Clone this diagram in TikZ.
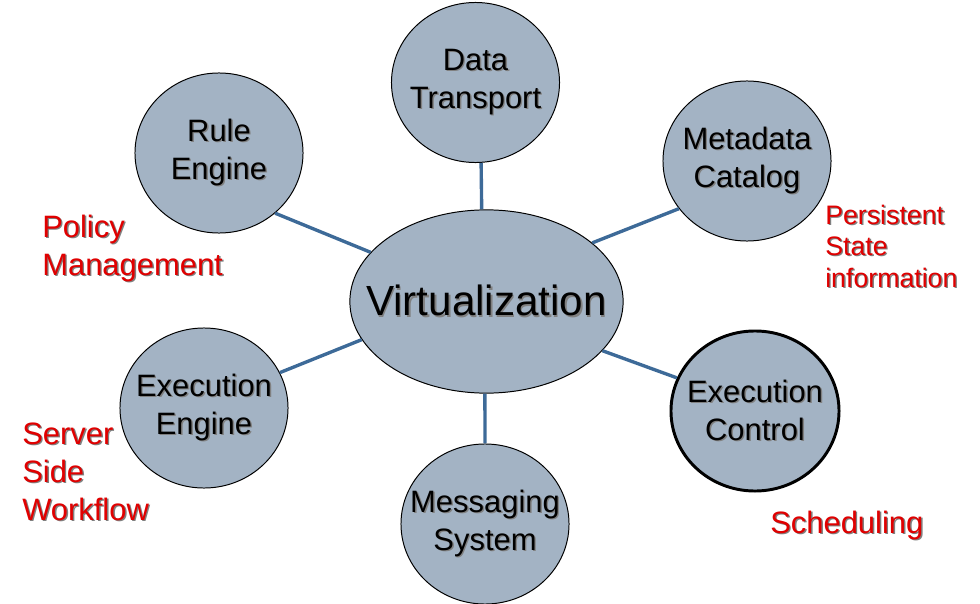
\documentclass[tikz,border=0pt]{standalone}
\usepackage{fontspec}
\setmainfont{Liberation Sans}
\usetikzlibrary{shapes.geometric}

\definecolor{bubblefill}{HTML}{A3B3C4}
\definecolor{linkblue}{HTML}{3D6A98}
\definecolor{notered}{HTML}{E00000}

% text with a soft drop shadow
\newcommand{\shd}[1]{\leavevmode\rlap{\kern1pt\raisebox{-1pt}{\color{black!50}#1}}#1}

\tikzset{
    bubble/.style={ellipse, draw=black, line width=.7pt, fill=bubblefill, minimum width=4.2cm, minimum height=4.0cm, inner sep=-2cm, align=center, font=\fontsize{22}{27}\selectfont},
    link/.style={line width=2.4pt, color=linkblue},
    note/.style={color=notered, align=left, anchor=base west, inner sep=0pt, font=\fontsize{22}{27}\selectfont}
}

\begin{document}
\begin{tikzpicture}[x=0.025cm, y=-0.025cm]
        \useasboundingbox (0,0) rectangle (980,604);
        % centre
        \node[ellipse, draw=black, line width=.7pt, fill=bubblefill, minimum width=6.83cm, minimum height=4.58cm, inner sep=-3cm, font=\fontsize{30}{36}\selectfont] (virt) at (486.5,301.5) {\shd{Virtualization}};
        % outer bubbles
        \node[bubble] (data) at (475.5,82.5) {\shd{Data}\\\shd{Transport}};
        \node[bubble] (rule) at (219,153) {\shd{Rule}\\\shd{Engine}};
        \node[bubble] (meta) at (747,161) {\shd{Metadata}\\\shd{Catalog}};
        \node[bubble] (exeng) at (204,408) {\shd{Execution}\\\shd{Engine}};
        \node[bubble, line width=2.1pt] (exctl) at (755,411) {\shd{Execution}\\\shd{Control}};
        \node[bubble] (msg) at (485,524) {\shd{Messaging}\\\shd{System}};
        % links
        \draw[link] (rule.-47) -- (virt.157);
        \draw[link] (data.-86) -- (virt.93);
        \draw[link] (meta.215) -- (virt.29);
        \draw[link] (exeng.25) -- (virt.197);
        \draw[link] (exctl.157) -- (virt.-23);
        \draw[link] (msg.north) -- (virt.-91);
        % red notes (placed at the baseline of their last line)
        \node[note] (policy) at (42,275) {\shd{Policy}\\\shd{Management}};
        \node[note, font=\fontsize{19}{22.4}\selectfont] (state) at (825,287) {\shd{Persistent}\\\shd{State}\\\shd{information}};
        \node[note] (server) at (22,520) {\shd{Server}\\\shd{Side}\\\shd{Workflow}};
        \node[note] (sched) at (770,533) {\shd{Scheduling}};
\end{tikzpicture}
\end{document}
